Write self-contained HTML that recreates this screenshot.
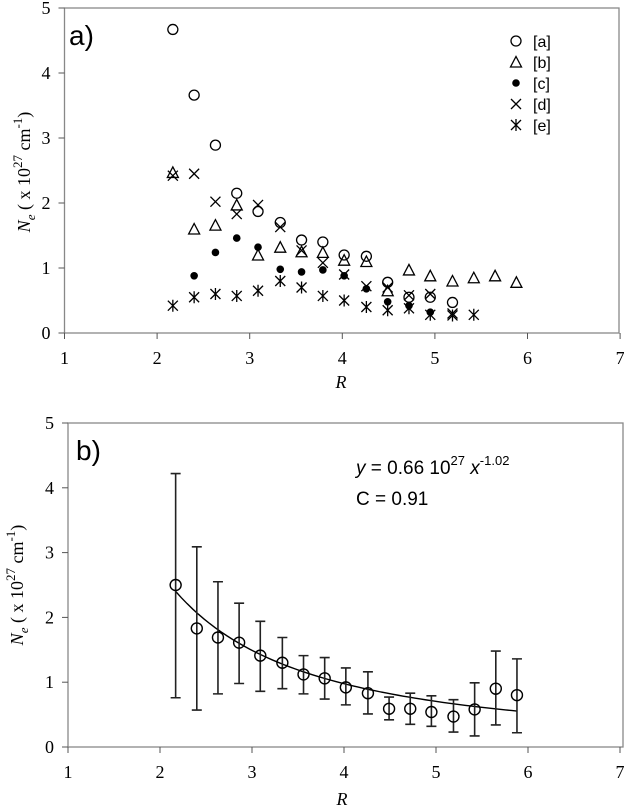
<!DOCTYPE html>
<html><head><meta charset="utf-8"><style>
body{margin:0;background:#fff}
svg{display:block}
.tk{font-family:"Liberation Serif",serif;font-size:18px;fill:#000}
.sn{font-family:"Liberation Sans",sans-serif;fill:#000}
</style></head><body>
<svg id="s" width="624" height="809" xmlns="http://www.w3.org/2000/svg"></svg>
<script>
const R=[2.17,2.4,2.63,2.86,3.09,3.33,3.56,3.79,4.02,4.26,4.49,4.72,4.95,5.19,5.42,5.65,5.88];
const serA=[4.67,3.66,2.89,2.15,1.87,1.70,1.43,1.40,1.20,1.18,0.78,0.55,0.55,0.47];
const serB=[2.47,1.60,1.66,1.97,1.20,1.32,1.25,1.24,1.12,1.10,0.65,0.97,0.88,0.80,0.85,0.88,0.78];
const serC=[null,0.88,1.24,1.46,1.32,0.98,0.94,0.97,0.88,0.68,0.48,0.42,0.32];
const serD=[2.42,2.45,2.02,1.83,1.97,1.63,1.27,1.08,0.90,0.72,0.70,0.58,0.60,0.30];
const serE=[0.42,0.55,0.60,0.57,0.65,0.80,0.70,0.57,0.50,0.40,0.35,0.38,0.28,0.27,0.28];
const meanB=[2.50,1.83,1.69,1.61,1.41,1.30,1.12,1.06,0.92,0.83,0.59,0.59,0.54,0.47,0.58,0.90,0.80];
const errHi=[4.22,3.09,2.55,2.22,1.94,1.69,1.41,1.38,1.22,1.16,0.77,0.83,0.79,0.73,0.99,1.48,1.36];
const errLo=[0.76,0.57,0.82,0.98,0.86,0.90,0.82,0.74,0.65,0.51,0.42,0.35,0.32,0.23,0.17,0.34,0.22];
const fitParams=[7.5,1.47];
const xTicks=[1,2,3,4,5,6,7];
const yTicks=[0,1,2,3,4,5];
const NS="http://www.w3.org/2000/svg";
const svg=document.getElementById('s');
function el(t,a,p){const e=document.createElementNS(NS,t);for(const k in a)e.setAttribute(k,a[k]);(p||svg).appendChild(e);return e;}
function axes(g,x0,ux,y0,uy,top,right){
  const X=v=>x0+(v-1)*ux, Y=v=>y0-v*uy;
  el('rect',{x:X(1),y:top,width:right-X(1),height:y0-top,fill:'none',stroke:'#888','stroke-width':1.3},g);
  xTicks.forEach(v=>{el('line',{x1:X(v),x2:X(v),y1:y0,y2:y0+6,stroke:'#555'},g);
    const t=el('text',{x:X(v),y:y0+31,'text-anchor':'middle',class:'tk'},g);t.textContent=v;
    });
  yTicks.forEach(v=>{el('line',{x1:X(1)-6,x2:X(1),y1:Y(v),y2:Y(v),stroke:'#555'},g);
    const t=el('text',{x:X(1)-14,y:Y(v)+6,'text-anchor':'end',class:'tk'},g);t.textContent=v;
    });
  return [X,Y];
}
function marker(g,type,x,y){
  const s={stroke:'#000','stroke-width':1.3,fill:'none'};
  if(type=='o')el('circle',Object.assign({cx:x,cy:y,r:5},s),g);
  if(type=='t')el('path',Object.assign({d:`M${x-5.5},${y+5}L${x+5.5},${y+5}L${x},${y-5.5}Z`},s),g);
  if(type=='c')el('circle',{cx:x,cy:y,r:3.8,fill:'#000'},g);
  if(type=='x')el('path',Object.assign({d:`M${x-5},${y-5}L${x+5},${y+5}M${x-5},${y+5}L${x+5},${y-5}`},s),g);
  if(type=='e')el('path',Object.assign({d:`M${x-5},${y-5}L${x+5},${y+5}M${x-5},${y+5}L${x+5},${y-5}M${x},${y-6}L${x},${y+6}`},s),g);
}
// chart a
const ga=el('g',{});
const [Xa,Ya]=axes(ga,64.5,92.6,333,65,8,619);
[[serA,'o'],[serB,'t'],[serC,'c'],[serD,'x'],[serE,'e']].forEach(([d,t])=>{
  const sg=el('g',{},ga);
  d.forEach((v,i)=>{if(v!=null)marker(sg,t,Xa(R[i]),Ya(v));});
});
const lg=el('g',{},ga);
['o','t','c','x','e'].forEach((t,i)=>{const y=41+i*21;marker(lg,t,516,y);
  const tx=el('text',{x:533,y:y+6,class:'sn','font-size':16},lg);tx.textContent='['+'abcde'[i]+']';
  });
el('text',{x:69,y:45,class:'sn','font-size':28},ga).textContent='a)';
let yl=el('text',{transform:'translate(30,172) rotate(-90)','text-anchor':'middle',class:'tk','font-size':20},ga);
yl.innerHTML='<tspan font-style="italic">N</tspan><tspan font-style="italic" font-size="13" dy="5">e</tspan><tspan dy="-5"> ( x 10</tspan><tspan font-size="13" dy="-8">27</tspan><tspan dy="8"> cm</tspan><tspan font-size="13" dy="-8">-1</tspan><tspan dy="8">)</tspan>';

let xl=el('text',{x:341,y:388,'text-anchor':'middle',class:'tk','font-style':'italic','font-size':20},ga);xl.textContent='R';

// chart b
const gb=el('g',{});
const [Xb,Yb]=axes(gb,68,92,747,64.8,423,623);
let pts=[];for(let k=0;k<=60;k++){const x=R[0]+(R[16]-R[0])*k/60;pts.push(Xb(x)+','+Yb(fitParams[0]*Math.pow(x,-fitParams[1])));}
const fl=el('polyline',{points:pts.join(' '),fill:'none',stroke:'#000','stroke-width':1.4},gb);

const eg=el('g',{},gb);
R.forEach((r,i)=>{const x=Xb(r);
  el('path',{d:`M${x},${Yb(errHi[i])}L${x},${Yb(errLo[i])}M${x-5},${Yb(errHi[i])}L${x+5},${Yb(errHi[i])}M${x-5},${Yb(errLo[i])}L${x+5},${Yb(errLo[i])}`,stroke:'#222','stroke-width':1.6,fill:'none'},eg);
  el('circle',{cx:x,cy:Yb(meanB[i]),r:5.5,fill:'none',stroke:'#000','stroke-width':1.4},eg);});
el('text',{x:76,y:460,class:'sn','font-size':28},gb).textContent='b)';
let eq=el('text',{x:356,y:474,class:'sn','font-size':19},gb);
eq.innerHTML='<tspan font-style="italic">y</tspan> = 0.66 10<tspan font-size="13" dy="-9">27</tspan><tspan dy="9" font-style="italic"> x</tspan><tspan font-size="13" dy="-9">-1.02</tspan>';

el('text',{x:356,y:505,class:'sn','font-size':19},gb).textContent='C = 0.91';
let yl2=yl.cloneNode(true);yl2.setAttribute('transform','translate(23,585) rotate(-90)');gb.appendChild(yl2);
let xl2=el('text',{x:342,y:805,'text-anchor':'middle',class:'tk','font-style':'italic','font-size':20},gb);xl2.textContent='R';

</script>
</body></html>
